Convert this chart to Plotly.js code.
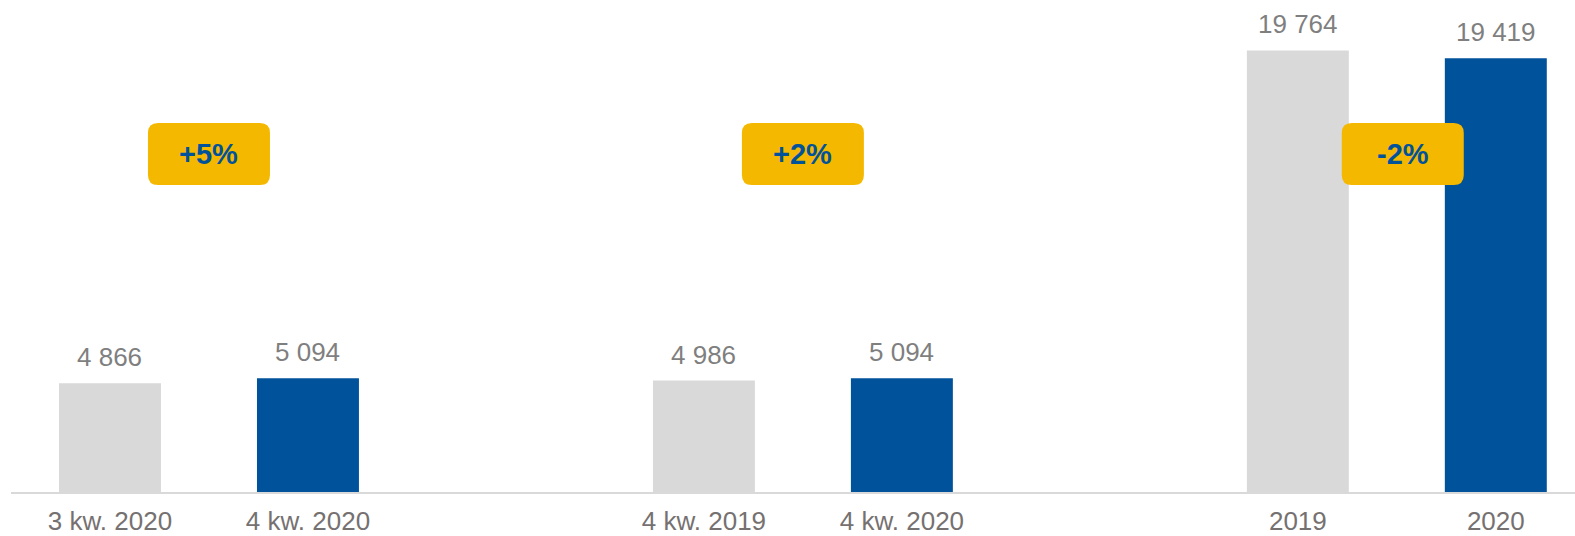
<!DOCTYPE html>
<html>
<head>
<meta charset="utf-8">
<script src="https://cdn.plot.ly/plotly-3.0.1.min.js"></script>
<style>
  html, body { margin: 0; padding: 0; background: #fff; }
  #chart { width: 1575px; height: 536px; }
</style>
</head>
<body>
<div id="chart"></div>
<script>
// one label per bar, left to right
var periodLabels = ["3 kw. 2020", "4 kw. 2020", "4 kw. 2019", "4 kw. 2020", "2019", "2020"];
// earlier period (grey) and later period (blue), one value per comparison
var prevValues = [4866, 4986, 19764];
var currValues = [5094, 5094, 19419];
var changeLabels = ["+5%", "+2%", "-2%"];

var GREY = "#d9d9d9";
var BLUE = "#00529b";
var YELLOW = "#f5b800";
var VALUE_GREY = "#7f7f7f";
var TICK_GREY = "#767171";
var FONT = "Liberation Sans, Arial, sans-serif";

// each comparison takes two slots and a gap slot
var prevPos = prevValues.map(function (v, i) { return i * 3; });
var currPos = currValues.map(function (v, i) { return i * 3 + 1; });
var tickPos = [];
for (var i = 0; i < prevPos.length; i++) {
    tickPos.push(prevPos[i], currPos[i]);
}

function fmt(n) {
    return String(n).replace(/\B(?=(\d{3})+(?!\d))/g, " ");
}

var barWidth = 0.515;

var prevTrace = {
    type: "bar",
    x: prevPos,
    y: prevValues,
    width: barWidth,
    marker: { color: GREY },
    hoverinfo: "skip"
};

var currTrace = {
    type: "bar",
    x: currPos,
    y: currValues,
    width: barWidth,
    marker: { color: BLUE },
    hoverinfo: "skip"
};

var annotations = [];
var shapes = [];

function valueLabel(x, y) {
    return {
        x: x, y: y, xref: "x", yref: "y",
        text: fmt(y),
        showarrow: false,
        yanchor: "bottom",
        yshift: 9,
        font: { family: FONT, size: 26, color: VALUE_GREY }
    };
}

for (var j = 0; j < prevValues.length; j++) {
    annotations.push(valueLabel(prevPos[j], prevValues[j]));
    annotations.push(valueLabel(currPos[j], currValues[j]));
}

// rounded badges with the change between the two bars
var badgeY = 0.687;
var w = 61, h = 31, r = 10;
var badgePath = "M " + (-w + r) + "," + (-h) +
    " L " + (w - r) + "," + (-h) + " Q " + w + "," + (-h) + " " + w + "," + (-h + r) +
    " L " + w + "," + (h - r) + " Q " + w + "," + h + " " + (w - r) + "," + h +
    " L " + (-w + r) + "," + h + " Q " + (-w) + "," + h + " " + (-w) + "," + (h - r) +
    " L " + (-w) + "," + (-h + r) + " Q " + (-w) + "," + (-h) + " " + (-w + r) + "," + (-h) + " Z";

for (var k = 0; k < changeLabels.length; k++) {
    var mid = (prevPos[k] + currPos[k]) / 2;
    if (k === changeLabels.length - 1) mid += 0.03;
    shapes.push({
        type: "path",
        xref: "x", yref: "paper",
        xsizemode: "pixel", ysizemode: "pixel",
        xanchor: mid, yanchor: badgeY,
        path: badgePath,
        fillcolor: YELLOW,
        line: { width: 0 },
        layer: "above"
    });
    annotations.push({
        x: mid, y: badgeY, xref: "x", yref: "paper",
        xanchor: "center", yanchor: "middle",
        text: "<b>" + changeLabels[k] + "</b>",
        showarrow: false,
        font: { family: FONT, size: 29, color: BLUE }
    });
}

var layout = {
    width: 1575,
    height: 536,
    margin: { l: 11, r: 0, t: 0, b: 44 },
    paper_bgcolor: "#ffffff",
    plot_bgcolor: "#ffffff",
    showlegend: false,
    barmode: "overlay",
    xaxis: {
        range: [-0.5, 7.4],
        tickmode: "array",
        tickvals: tickPos,
        ticktext: periodLabels,
        ticks: "",
        ticklabelstandoff: 5,
        showgrid: false,
        zeroline: false,
        showline: true,
        linecolor: GREY,
        linewidth: 2,
        tickfont: { family: FONT, size: 26, color: TICK_GREY },
        fixedrange: true
    },
    yaxis: {
        range: [0, 22023],
        visible: false,
        showgrid: false,
        zeroline: false,
        fixedrange: true
    },
    shapes: shapes,
    annotations: annotations
};

Plotly.newPlot("chart", [prevTrace, currTrace], layout, { staticPlot: true });
</script>
</body>
</html>
